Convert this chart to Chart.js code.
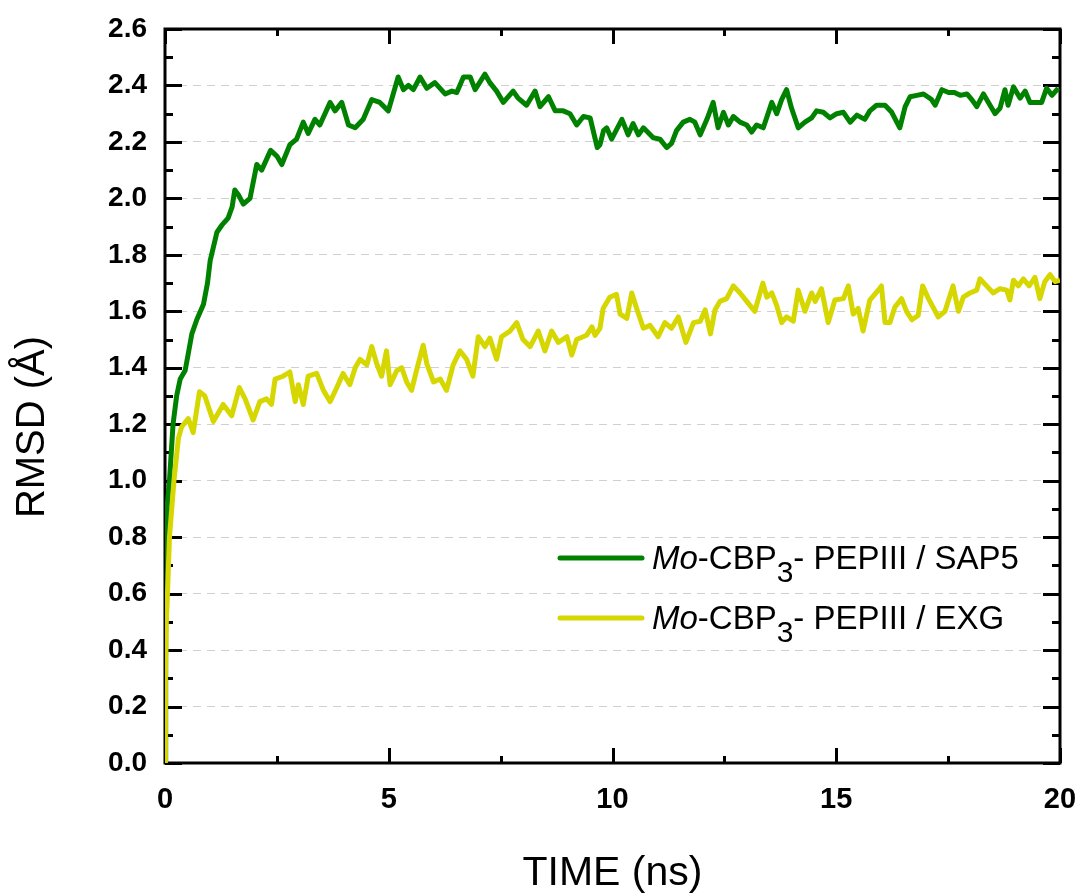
<!DOCTYPE html>
<html>
<head>
<meta charset="utf-8">
<script src="https://cdn.jsdelivr.net/npm/chart.js@4"></script>
<style>
  html, body { margin: 0; padding: 0; background: #fff; }
  #wrap { width: 1086px; height: 896px; }
</style>
</head>
<body>
<div id="wrap"><canvas id="rmsd-chart" width="1086" height="896"></canvas></div>
<script>
// values (time in ns, RMSD in Å)
const sap5Time = [0, 0.01, 0.02, 0.06, 0.1, 0.18, 0.26, 0.34, 0.45, 0.52, 0.6, 0.71, 0.86, 0.95, 1.01, 1.1, 1.16, 1.27, 1.41, 1.5, 1.56, 1.65, 1.75, 1.9, 2.05, 2.16, 2.36, 2.5, 2.61, 2.79, 2.94, 3.09, 3.2, 3.35, 3.46, 3.69, 3.8, 3.95, 4.1, 4.25, 4.43, 4.62, 4.8, 4.99, 5.21, 5.33, 5.44, 5.55, 5.7, 5.85, 6.03, 6.26, 6.41, 6.52, 6.67, 6.82, 6.93, 7.15, 7.26, 7.41, 7.56, 7.78, 7.89, 8.08, 8.27, 8.38, 8.57, 8.72, 8.9, 9.05, 9.2, 9.35, 9.5, 9.66, 9.72, 9.8, 9.87, 9.98, 10.21, 10.35, 10.46, 10.58, 10.69, 10.91, 11.06, 11.21, 11.32, 11.43, 11.58, 11.73, 11.84, 11.96, 12.11, 12.25, 12.36, 12.48, 12.59, 12.7, 12.85, 13.0, 13.11, 13.22, 13.37, 13.56, 13.67, 13.78, 13.89, 14.0, 14.15, 14.3, 14.45, 14.56, 14.71, 14.86, 15.01, 15.16, 15.31, 15.46, 15.64, 15.75, 15.9, 16.09, 16.24, 16.42, 16.54, 16.65, 16.8, 16.95, 17.13, 17.21, 17.36, 17.51, 17.64, 17.77, 17.92, 18.03, 18.14, 18.29, 18.4, 18.55, 18.66, 18.77, 18.84, 18.96, 19.11, 19.22, 19.33, 19.48, 19.59, 19.7, 19.82, 19.96];
const sap5Rmsd = [0, 0.5, 0.8, 0.93, 1.0, 1.2, 1.3, 1.36, 1.39, 1.45, 1.52, 1.57, 1.625, 1.7, 1.78, 1.84, 1.88, 1.905, 1.93, 1.97, 2.03, 2.01, 1.98, 2.0, 2.12, 2.1, 2.17, 2.15, 2.12, 2.19, 2.21, 2.27, 2.23, 2.28, 2.26, 2.34, 2.31, 2.34, 2.26, 2.25, 2.28, 2.35, 2.34, 2.31, 2.43, 2.385, 2.4, 2.385, 2.43, 2.39, 2.41, 2.37, 2.38, 2.375, 2.43, 2.43, 2.385, 2.44, 2.41, 2.38, 2.34, 2.38, 2.355, 2.33, 2.38, 2.325, 2.36, 2.31, 2.31, 2.3, 2.26, 2.29, 2.285, 2.18, 2.19, 2.24, 2.25, 2.21, 2.28, 2.225, 2.265, 2.225, 2.25, 2.215, 2.21, 2.18, 2.195, 2.24, 2.27, 2.28, 2.27, 2.225, 2.28, 2.34, 2.25, 2.305, 2.26, 2.29, 2.27, 2.26, 2.235, 2.26, 2.25, 2.34, 2.3, 2.35, 2.385, 2.32, 2.25, 2.27, 2.285, 2.31, 2.305, 2.285, 2.3, 2.305, 2.27, 2.295, 2.28, 2.31, 2.33, 2.33, 2.305, 2.25, 2.325, 2.36, 2.365, 2.37, 2.35, 2.33, 2.385, 2.375, 2.375, 2.365, 2.37, 2.35, 2.325, 2.37, 2.34, 2.3, 2.32, 2.385, 2.33, 2.395, 2.355, 2.38, 2.34, 2.34, 2.34, 2.39, 2.365, 2.39];

const exgTime = [0, 0.01, 0.03, 0.06, 0.1, 0.2, 0.3, 0.37, 0.52, 0.63, 0.77, 0.89, 1.08, 1.3, 1.49, 1.66, 1.79, 1.97, 2.12, 2.27, 2.38, 2.46, 2.64, 2.79, 2.91, 2.98, 3.09, 3.2, 3.39, 3.54, 3.69, 3.84, 3.98, 4.13, 4.25, 4.36, 4.51, 4.62, 4.73, 4.84, 4.95, 5.03, 5.18, 5.29, 5.4, 5.51, 5.62, 5.77, 5.85, 6.0, 6.15, 6.29, 6.44, 6.59, 6.74, 6.88, 7.0, 7.15, 7.26, 7.41, 7.52, 7.71, 7.86, 8.0, 8.16, 8.34, 8.49, 8.64, 8.79, 8.98, 9.09, 9.2, 9.42, 9.54, 9.61, 9.72, 9.79, 9.94, 10.09, 10.17, 10.32, 10.43, 10.54, 10.69, 10.84, 11.02, 11.17, 11.32, 11.47, 11.64, 11.81, 11.96, 12.07, 12.19, 12.29, 12.4, 12.55, 12.7, 12.85, 13.0, 13.18, 13.36, 13.45, 13.56, 13.67, 13.78, 13.89, 14.04, 14.15, 14.3, 14.45, 14.53, 14.67, 14.82, 14.97, 15.16, 15.27, 15.38, 15.49, 15.6, 15.75, 15.94, 16.01, 16.09, 16.2, 16.31, 16.46, 16.57, 16.69, 16.83, 16.93, 17.06, 17.28, 17.43, 17.61, 17.73, 17.84, 17.99, 18.14, 18.21, 18.36, 18.51, 18.66, 18.81, 18.88, 18.96, 19.07, 19.18, 19.31, 19.44, 19.55, 19.66, 19.78, 19.89, 20.0];
const exgRmsd = [0, 0.3, 0.5, 0.62, 0.8, 1.0, 1.15, 1.19, 1.22, 1.17, 1.315, 1.3, 1.21, 1.27, 1.23, 1.33, 1.29, 1.215, 1.28, 1.29, 1.27, 1.36, 1.37, 1.385, 1.28, 1.34, 1.27, 1.37, 1.38, 1.32, 1.28, 1.33, 1.38, 1.34, 1.4, 1.43, 1.41, 1.475, 1.415, 1.37, 1.46, 1.34, 1.39, 1.4, 1.35, 1.32, 1.39, 1.48, 1.415, 1.35, 1.36, 1.32, 1.41, 1.46, 1.43, 1.37, 1.51, 1.475, 1.505, 1.43, 1.51, 1.53, 1.56, 1.5, 1.475, 1.53, 1.46, 1.53, 1.49, 1.51, 1.445, 1.5, 1.515, 1.545, 1.515, 1.54, 1.61, 1.65, 1.66, 1.59, 1.575, 1.665, 1.61, 1.54, 1.55, 1.51, 1.56, 1.54, 1.58, 1.49, 1.56, 1.565, 1.605, 1.52, 1.605, 1.635, 1.645, 1.69, 1.665, 1.635, 1.6, 1.7, 1.65, 1.665, 1.62, 1.56, 1.58, 1.565, 1.675, 1.6, 1.665, 1.635, 1.68, 1.56, 1.64, 1.645, 1.69, 1.59, 1.61, 1.53, 1.64, 1.675, 1.69, 1.56, 1.56, 1.615, 1.645, 1.6, 1.57, 1.585, 1.69, 1.645, 1.58, 1.6, 1.69, 1.6, 1.65, 1.665, 1.675, 1.715, 1.69, 1.665, 1.68, 1.675, 1.64, 1.71, 1.69, 1.715, 1.69, 1.72, 1.645, 1.705, 1.73, 1.705, 1.71];

const xMajor = [0, 5, 10, 15, 20];
const xMinor = [2.5, 7.5, 12.5, 17.5];
const yMajor = [0, 0.2, 0.4, 0.6, 0.8, 1.0, 1.2, 1.4, 1.6, 1.8, 2.0, 2.2, 2.4, 2.6];
const yMinor = [0.1, 0.3, 0.5, 0.7, 0.9, 1.1, 1.3, 1.5, 1.7, 1.9, 2.1, 2.3, 2.5];

const FONT = '"Liberation Sans", Arial, sans-serif';
const GREEN = '#008200';
const YELLOW = '#d6d600';

const toPoints = (xs, ys) => xs.map((x, i) => ({ x: x, y: ys[i] }));

// labels may overhang the plot box, so the scales should not push it inward
const noOverhang = s => {
  s.paddingTop = 0; s.paddingBottom = 0;
  s.paddingLeft = 0; s.paddingRight = 0;
};

// box, inward tick marks, y title and legend
const framePlugin = {
  id: 'frame',
  beforeDatasetsDraw(chart) {
    const { ctx, chartArea: a, scales } = chart;
    const xs = scales.x, ys = scales.y;
    ctx.save();
    ctx.strokeStyle = '#000';
    ctx.lineWidth = 3;
    ctx.lineCap = 'butt';
    ctx.strokeRect(a.left, a.top, a.right - a.left, a.bottom - a.top);
    ctx.beginPath();
    const tickY = (v, len) => {
      const y = Math.round(ys.getPixelForValue(v)) + 0.5;
      ctx.moveTo(a.left, y); ctx.lineTo(a.left + len, y);
      ctx.moveTo(a.right, y); ctx.lineTo(a.right - len, y);
    };
    const tickX = (v, len) => {
      const x = Math.round(xs.getPixelForValue(v)) + 0.5;
      ctx.moveTo(x, a.bottom); ctx.lineTo(x, a.bottom - len);
      ctx.moveTo(x, a.top); ctx.lineTo(x, a.top + len);
    };
    yMajor.forEach(v => tickY(v, 17));
    yMinor.forEach(v => tickY(v, 8));
    xMajor.forEach(v => tickX(v, 15));
    xMinor.forEach(v => tickX(v, 7));
    ctx.stroke();
    ctx.restore();
  },
  afterDraw(chart) {
    const { ctx } = chart;
    ctx.save();
    // y axis title
    ctx.fillStyle = '#000';
    ctx.font = '40px ' + FONT;
    ctx.textAlign = 'center';
    ctx.textBaseline = 'middle';
    ctx.translate(33, 427);
    ctx.rotate(-Math.PI / 2);
    ctx.fillText('RMSD (Å)', 0, 0);
    ctx.restore();

    // legend
    const rows = [
      { ds: chart.data.datasets[0], y: 558, tail: '- PEPIII / SAP5' },
      { ds: chart.data.datasets[1], y: 618, tail: '- PEPIII / EXG' }
    ];
    ctx.save();
    rows.forEach(r => {
      ctx.strokeStyle = r.ds.borderColor;
      ctx.lineWidth = 5;
      ctx.lineCap = 'round';
      ctx.beginPath();
      ctx.moveTo(560, r.y);
      ctx.lineTo(642, r.y);
      ctx.stroke();

      const base = r.y + 11;
      let x = 652;
      ctx.fillStyle = '#000';
      ctx.textAlign = 'left';
      ctx.textBaseline = 'alphabetic';
      ctx.font = 'italic 33px ' + FONT;
      ctx.fillText('Mo', x, base);
      x += ctx.measureText('Mo').width;
      ctx.font = '33px ' + FONT;
      ctx.fillText('-CBP', x, base);
      x += ctx.measureText('-CBP').width;
      ctx.font = '30px ' + FONT;
      ctx.fillText('3', x, base + 13);
      x += ctx.measureText('3').width;
      ctx.font = '33px ' + FONT;
      ctx.fillText(r.tail, x, base);
    });
    ctx.restore();
  }
};

new Chart(document.getElementById('rmsd-chart').getContext('2d'), {
  type: 'line',
  data: {
    datasets: [
      {
        label: 'Mo-CBP3- PEPIII / SAP5',
        data: toPoints(sap5Time, sap5Rmsd),
        borderColor: GREEN,
        borderWidth: 5,
        pointRadius: 0,
        tension: 0,
        borderJoinStyle: 'round',
        order: 1
      },
      {
        label: 'Mo-CBP3- PEPIII / EXG',
        data: toPoints(exgTime, exgRmsd),
        borderColor: YELLOW,
        borderWidth: 5,
        pointRadius: 0,
        tension: 0,
        borderJoinStyle: 'round',
        order: 0
      }
    ]
  },
  options: {
    responsive: false,
    animation: false,
    layout: { padding: { top: 29, right: 26, left: 0, bottom: 0 } },
    plugins: {
      legend: { display: false },
      tooltip: { enabled: false }
    },
    scales: {
      x: {
        type: 'linear',
        min: 0,
        max: 20,
        afterBuildTicks: s => { s.ticks = xMajor.map(v => ({ value: v })); },
        afterFit: s => { s.height = 133; noOverhang(s); },
        grid: { display: false, drawTicks: false },
        border: { display: false },
        ticks: {
          color: '#000',
          padding: 20,
          maxRotation: 0,
          font: { family: FONT, size: 29, weight: 'bold' }
        },
        title: {
          display: true,
          text: 'TIME (ns)',
          color: '#000',
          padding: 0,
          font: { family: FONT, size: 41, lineHeight: 1.1 }
        }
      },
      y: {
        type: 'linear',
        min: 0,
        max: 2.6,
        afterBuildTicks: s => { s.ticks = yMajor.map(v => ({ value: v })); },
        afterFit: s => { s.width = 165; noOverhang(s); },
        grid: {
          drawTicks: false,
          lineWidth: 1,
          color: c => (c.tick && (c.tick.value === 0 || c.tick.value === 2.6)) ? 'rgba(0,0,0,0)' : '#d0d0d0'
        },
        border: { display: false, dash: [8, 6] },
        ticks: {
          color: '#000',
          padding: 18,
          font: { family: FONT, size: 28, weight: 'bold' },
          callback: v => v.toFixed(1)
        }
      }
    }
  },
  plugins: [framePlugin]
});
</script>
</body>
</html>
